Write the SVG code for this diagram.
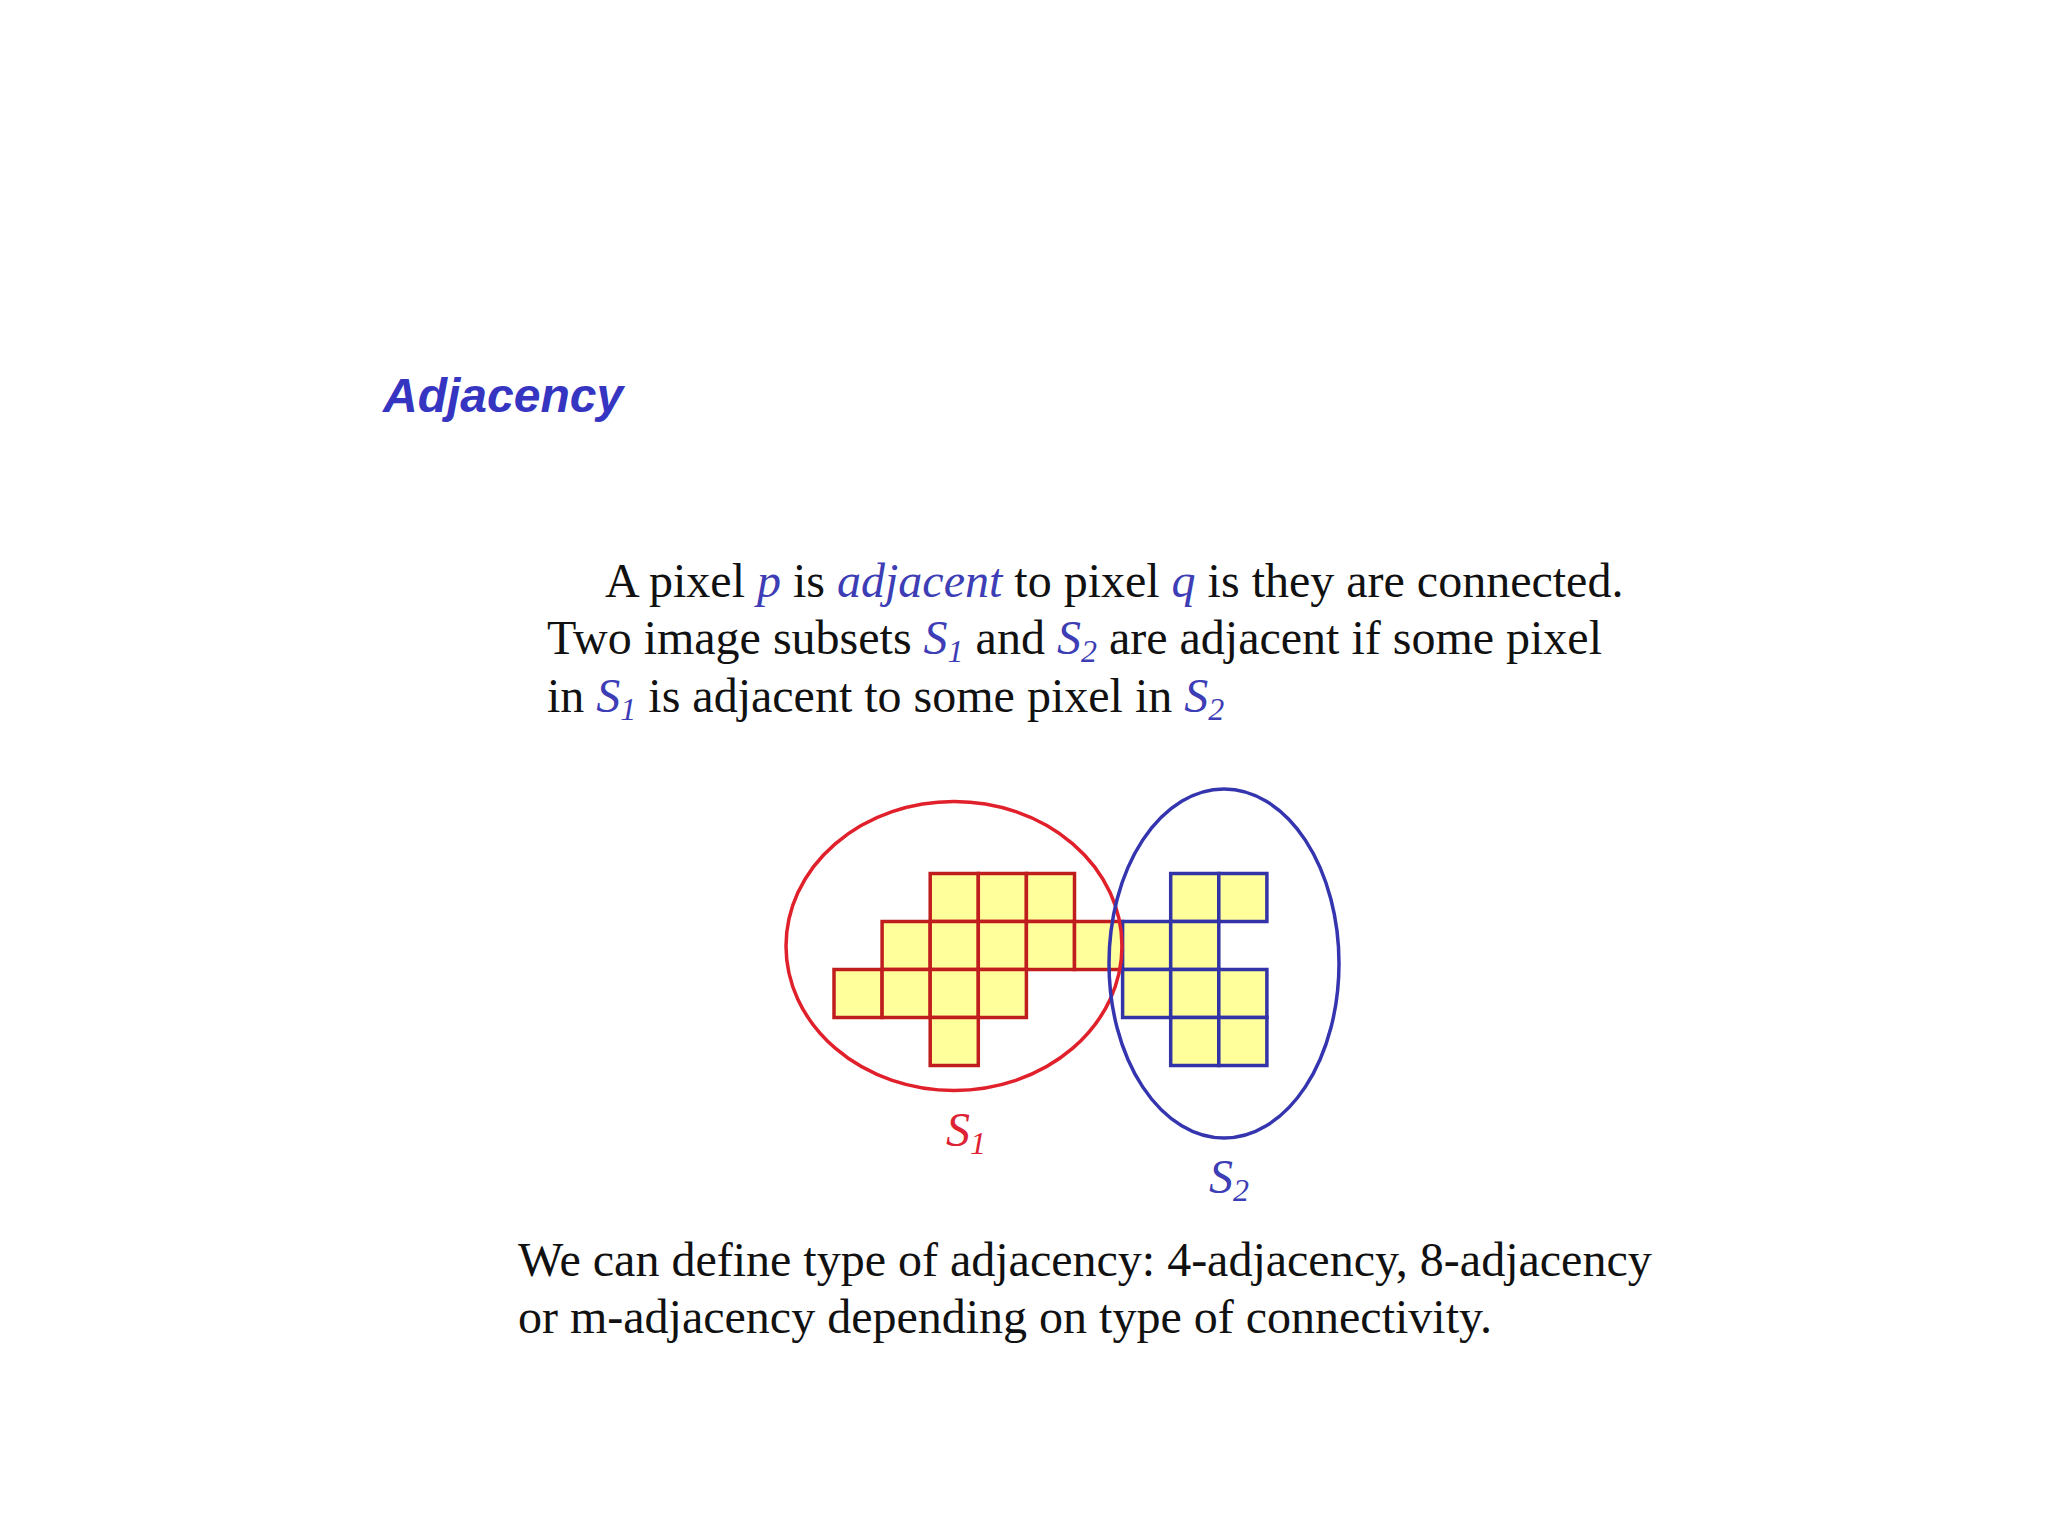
<svg xmlns="http://www.w3.org/2000/svg" width="2048" height="1536" viewBox="0 0 2048 1536">
  <style>
    .body { font-family: "Liberation Serif", "Times New Roman", serif; font-size: 48px; fill: #111; }
    .var { font-style: italic; fill: #3d3db5; }
    .sub { font-size: 32px; }
    .title { font-family: "Liberation Sans", Arial, sans-serif; font-size: 48px; font-weight: bold; font-style: italic; fill: #3535c2; }
    .c1 { fill: #ffff9c; stroke: #c01e1e; stroke-width: 3.5; }
    .c2 { fill: #ffff9c; stroke: #3333a8; stroke-width: 3.5; }
    .ell { fill: none; stroke-width: 3.5; }
    .lbl { font-family: "Liberation Serif", "Times New Roman", serif; font-style: italic; font-size: 48px; }
  </style>
  <rect width="2048" height="1536" fill="#ffffff"/>

  <g id="title">
    <text class="title" x="383" y="412">Adjacency</text>
  </g>

  <g id="definition">
    <text class="body" x="605" y="597">A pixel <tspan class="var">p</tspan> is <tspan class="var">adjacent</tspan> to pixel <tspan class="var">q</tspan> is they are connected.</text>
    <text class="body" x="547" y="654">Two image subsets <tspan class="var">S</tspan><tspan class="var sub" dy="8">1</tspan><tspan dy="-8"> and </tspan><tspan class="var">S</tspan><tspan class="var sub" dy="8">2</tspan><tspan dy="-8"> are adjacent if some pixel</tspan></text>
    <text class="body" x="547" y="712">in <tspan class="var">S</tspan><tspan class="var sub" dy="8">1</tspan><tspan dy="-8"> is adjacent to some pixel in </tspan><tspan class="var">S</tspan><tspan class="var sub" dy="8">2</tspan></text>
  </g>

  <g id="S1-pixels">
    <rect class="c1" x="930.2" y="873.5" width="48.1" height="48"/>
    <rect class="c1" x="978.3" y="873.5" width="48.1" height="48"/>
    <rect class="c1" x="1026.4" y="873.5" width="48.1" height="48"/>
    <rect class="c1" x="882.1" y="921.5" width="48.1" height="48"/>
    <rect class="c1" x="930.2" y="921.5" width="48.1" height="48"/>
    <rect class="c1" x="978.3" y="921.5" width="48.1" height="48"/>
    <rect class="c1" x="1026.4" y="921.5" width="48.1" height="48"/>
    <rect class="c1" x="1074.5" y="921.5" width="48.1" height="48"/>
    <rect class="c1" x="834" y="969.5" width="48.1" height="48"/>
    <rect class="c1" x="882.1" y="969.5" width="48.1" height="48"/>
    <rect class="c1" x="930.2" y="969.5" width="48.1" height="48"/>
    <rect class="c1" x="978.3" y="969.5" width="48.1" height="48"/>
    <rect class="c1" x="930.2" y="1017.5" width="48.1" height="48"/>
  </g>

  <g id="S2-pixels">
    <rect class="c2" x="1170.7" y="873.5" width="48.1" height="48"/>
    <rect class="c2" x="1218.8" y="873.5" width="48.1" height="48"/>
    <rect class="c2" x="1122.6" y="921.5" width="48.1" height="48"/>
    <rect class="c2" x="1170.7" y="921.5" width="48.1" height="48"/>
    <rect class="c2" x="1122.6" y="969.5" width="48.1" height="48"/>
    <rect class="c2" x="1170.7" y="969.5" width="48.1" height="48"/>
    <rect class="c2" x="1218.8" y="969.5" width="48.1" height="48"/>
    <rect class="c2" x="1170.7" y="1017.5" width="48.1" height="48"/>
    <rect class="c2" x="1218.8" y="1017.5" width="48.1" height="48"/>
  </g>

  <g id="S1">
    <ellipse class="ell" cx="954" cy="946" rx="168" ry="144.5" stroke="#e0202a"/>
    <text class="lbl" x="946" y="1146" fill="#dd2233">S<tspan class="sub" dy="8">1</tspan></text>
  </g>

  <g id="S2">
    <ellipse class="ell" cx="1224" cy="963.5" rx="115" ry="174.5" stroke="#3535b0"/>
    <text class="lbl" x="1209" y="1193" fill="#3d3db5">S<tspan class="sub" dy="8">2</tspan></text>
  </g>

  <g id="note">
    <text class="body" x="518" y="1276">We can define type of adjacency: 4-adjacency, 8-adjacency</text>
    <text class="body" x="518" y="1333">or m-adjacency depending on type of connectivity.</text>
  </g>
</svg>
